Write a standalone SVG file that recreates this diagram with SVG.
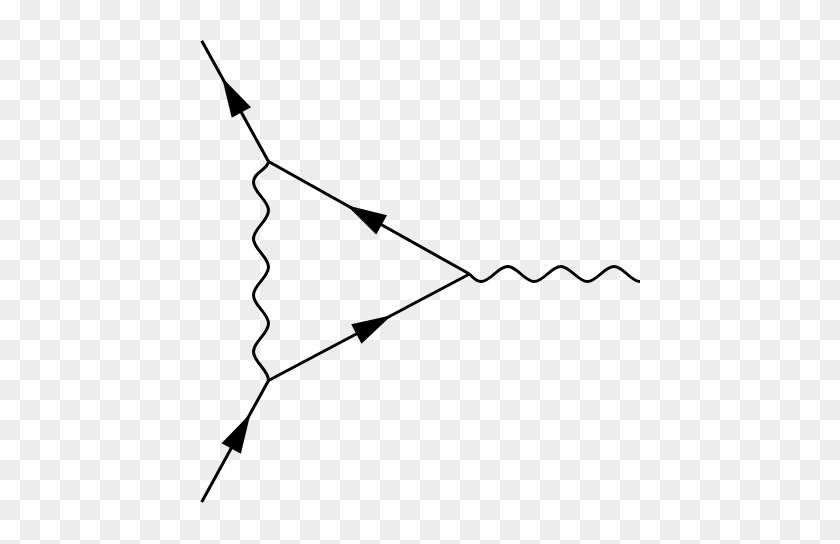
<svg xmlns="http://www.w3.org/2000/svg" xmlns:xlink="http://www.w3.org/1999/xlink" width="840" height="544" viewBox="0 0 840 544">
  <style>
    .fermion { fill: none; stroke: #000; stroke-width: 3; }
    .photon { fill: none; stroke: #000; stroke-width: 3; stroke-linejoin: round; }
    .arrow { fill: #000; stroke: none; }
  </style>
  <defs>
    <pattern id="checker" width="40" height="40" patternUnits="userSpaceOnUse">
      <rect width="40" height="40" fill="#ffffff"/>
      <rect x="20" y="0" width="20" height="20" fill="#ededed"/>
      <rect x="0" y="20" width="20" height="20" fill="#ededed"/>
    </pattern>
    <path id="arr" class="arrow" d="M0,0 L-40,-11 L-40,11 Z"/>
  </defs>
  <rect width="840" height="544" fill="url(#checker)"/>

  <g id="connectors">
    <g id="outgoing-fermion">
      <line class="fermion" x1="268.5" y1="161.5" x2="201.7" y2="40.7"/>
      <use xlink:href="#arr" href="#arr" transform="translate(222,77.5) rotate(-118.95)"/>
    </g>
    <g id="incoming-fermion">
      <line class="fermion" x1="201.7" y1="502" x2="268.5" y2="380.5"/>
      <use xlink:href="#arr" href="#arr" transform="translate(250.5,413.5) rotate(-61.2)"/>
    </g>
    <g id="upper-internal-fermion">
      <line class="fermion" x1="469.5" y1="274" x2="268.5" y2="161.5"/>
      <use xlink:href="#arr" href="#arr" transform="translate(346.7,205.3) rotate(-150.77)"/>
    </g>
    <g id="lower-internal-fermion">
      <line class="fermion" x1="268.5" y1="380.5" x2="469.5" y2="274"/>
      <use xlink:href="#arr" href="#arr" transform="translate(391.7,315.2) rotate(-27.92)"/>
    </g>
    <g id="internal-photon">
      <path class="photon" d="M268.5,161.5 C267.5,170 253.5,172 253.5,182.25
        C253.5,192.52 268.5,200.23 268.5,210.5
        C268.5,220.77 253.5,228.48 253.5,238.75
        C253.5,249.02 268.5,256.73 268.5,267
        C268.5,277.27 253.5,284.98 253.5,295.25
        C253.5,305.52 268.5,313.23 268.5,323.5
        C268.5,333.77 253.5,341.48 253.5,351.75
        C253.5,362.02 268.5,369.73 268.5,380.5"/>
    </g>
    <g id="external-photon">
      <path class="photon" d="M469.5,274 C473.5,278 476,281.5 481,281.5
        C490.67,281.5 497.93,266.5 507.6,266.5
        C517.27,266.5 524.53,281.5 534.2,281.5
        C543.87,281.5 551.13,266.5 560.8,266.5
        C570.47,266.5 577.73,281.5 587.4,281.5
        C597.07,281.5 604.33,266.5 614,266.5
        C623.67,266.5 630.33,281.5 640,281.5"/>
    </g>
  </g>
</svg>
